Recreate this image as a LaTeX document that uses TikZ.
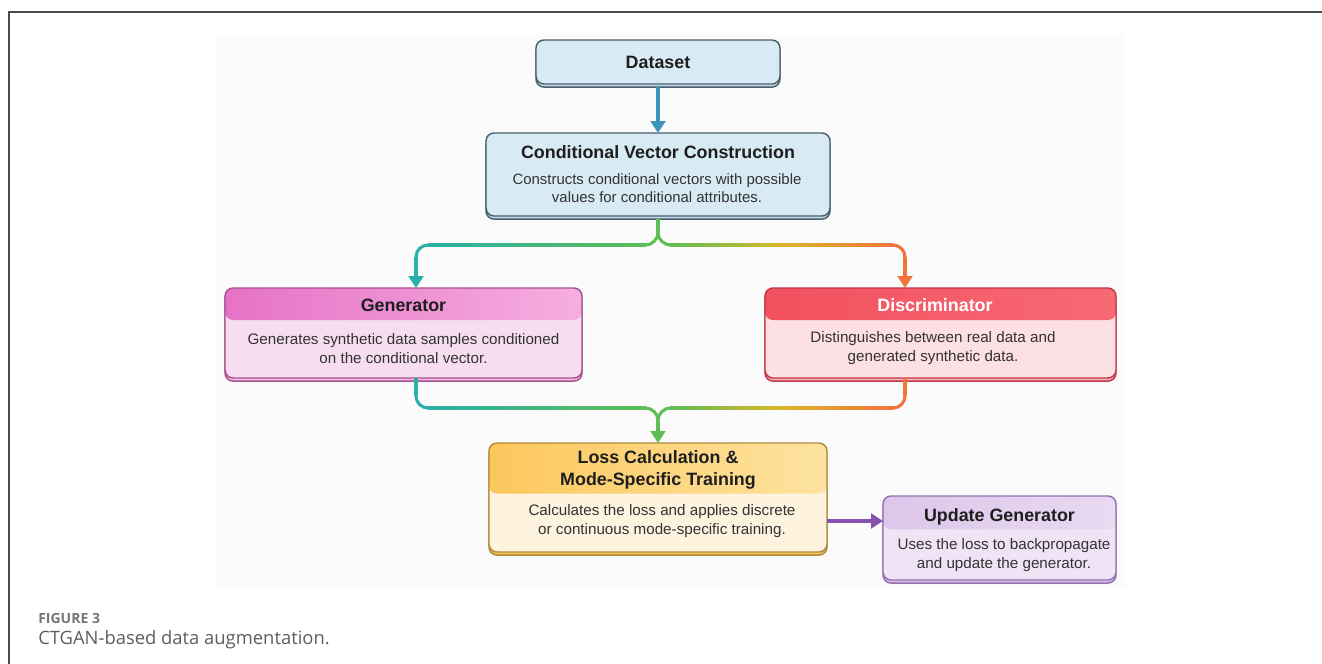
\documentclass[tikz,border=0pt]{standalone}
\usepackage{fontspec}
\setmainfont{Liberation Sans}
\newfontfamily\capfont{Open Sans}
\usetikzlibrary{arrows.meta,calc,fit,shadows}

% palette
\definecolor{ink}{HTML}{1E1E1E}
\definecolor{ink2}{HTML}{333333}
\definecolor{frameC}{HTML}{4A4A4A}
\definecolor{capC}{HTML}{5E5E5E}
\definecolor{panel}{HTML}{FBFBFB}
\definecolor{cBlue}{HTML}{3A97BA}
\definecolor{cGreen}{HTML}{5EBD55}
\definecolor{cTeal}{HTML}{2AB0A6}
\definecolor{cYel}{HTML}{D8B82A}
\definecolor{cOra}{HTML}{F2743A}
\definecolor{cPurple}{HTML}{8550AE}
% box colours
\definecolor{blueBdr}{HTML}{4A5F6C}
\definecolor{blueFill}{HTML}{D8EAF4}
\definecolor{blueShd}{HTML}{C2DAE7}
\definecolor{genBdr}{HTML}{A8508F}
\definecolor{genBody}{HTML}{F6DEF0}
\definecolor{genH1}{HTML}{E672C6}
\definecolor{genH2}{HTML}{F6AEE0}
\definecolor{genShd}{HTML}{F0C0E0}
\definecolor{disBdr}{HTML}{C03848}
\definecolor{disBody}{HTML}{FDE0E3}
\definecolor{disH1}{HTML}{F2505E}
\definecolor{disH2}{HTML}{F66A74}
\definecolor{disShd}{HTML}{F8B4BC}
\definecolor{lossBdr}{HTML}{B08A3A}
\definecolor{lossBody}{HTML}{FDF3DF}
\definecolor{lossH1}{HTML}{FCC75C}
\definecolor{lossH2}{HTML}{FDE3A0}
\definecolor{lossShd}{HTML}{F5C55A}
\definecolor{updBdr}{HTML}{9470B0}
\definecolor{updBody}{HTML}{EFE3F5}
\definecolor{updH1}{HTML}{DCC6EA}
\definecolor{updH2}{HTML}{E9D9F1}
\definecolor{updShd}{HTML}{D8C0E8}

\tikzset{
  card/.style n args={3}{draw=#1, fill=#2, line width=1.1pt, rounded corners=6pt,
    inner sep=0pt, outer sep=0pt,
    general shadow={shadow xshift=0pt, shadow yshift=-2.3pt, fill=#3, draw=#1, line width=1.1pt}},
  head/.style n args={3}{path picture={
    \shade[left color=#1, right color=#2]
      (path picture bounding box.north west) rectangle
      ([yshift=-#3]path picture bounding box.north east);}},
  ttl/.style={font=\bfseries\fontsize{13.4}{16.5}\selectfont, text=ink, align=center, inner sep=0pt},
  txt/.style={font=\fontsize{11.4}{14.8}\selectfont, text=ink2, align=center, inner sep=0pt},
  wire/.style={line width=2.3pt},
  tip/.style={-{Triangle[length=9pt,width=11pt]}},
}

% colour-graded horizontal run, left point #1 to right point #2, colours #3 -> #4
\newcommand\gradrun[4]{%
  \shade[left color=#3, right color=#4]
    ([xshift=-0.3pt, yshift=1.15pt]#1) rectangle ([xshift=0.3pt, yshift=-1.15pt]#2);}

\begin{document}
\begin{tikzpicture}[x=0.75pt, y=-0.75pt]
\useasboundingbox (0,0) rectangle (1322,664);

% page frame and figure panel
\fill[white] (0,0) rectangle (1322,664);
\fill[panel] (217,34) rectangle (1125,588);
\draw[frameC, line width=1.2pt] (9,664) -- (9,12) -- (1322,12);

% boxes
\node[card={blueBdr}{blueFill}{blueShd}, fit={(536,40)(780,84)}] (ds) {};
\node[ttl] (dsT) at (ds.center) {Dataset};

\node[card={blueBdr}{blueFill}{blueShd}, fit={(486,133)(830,216)}] (cvc) {};
\node[ttl] (cvcT) at (658,152) {Conditional Vector Construction};
\node[txt, font=\fontsize{11.2}{13}\selectfont] (cvcB) at (657,188)
  {Constructs conditional vectors with possible\\values for conditional attributes.};

\node[card={genBdr}{genBody}{genShd}, head={genH1}{genH2}{24pt}, fit={(225,288)(582,378)}] (gen) {};
\node[ttl] (genT) at (403.5,305) {Generator};
\node[txt] (genB) at (403.5,348.5)
  {Generates synthetic data samples conditioned\\on the conditional vector.};

\node[card={disBdr}{disBody}{disShd}, head={disH1}{disH2}{24pt}, fit={(765,288)(1116,378)}] (dis) {};
\node[ttl, text=white] (disT) at (935,305) {Discriminator};
\node[txt] (disB) at (933,348)
  {Distinguishes between real data and\\generated synthetic data.};

\node[card={lossBdr}{lossBody}{lossShd}, head={lossH1}{lossH2}{38pt}, fit={(489,443)(827,552)}] (loss) {};
\node[ttl] (lossT) at (658,469.5) {Loss Calculation \&\\Mode-Specific Training};
\node[txt] (lossB) at (662,521)
  {Calculates the loss and applies discrete\\or continuous mode-specific training.};

\node[card={updBdr}{updBody}{updShd}, head={updH1}{updH2}{25pt}, fit={(883,496)(1116,580)}] (upd) {};
\node[ttl] (updT) at (999.5,517) {Update Generator};
\node[txt] (updB) at (1004,555)
  {Uses the loss to backpropagate\\and update the generator.};

% bend points of the split and merge wires
\coordinate (s0) at (658,233);
\coordinate (hL) at (646,245);  \coordinate (hL2) at (428,245);
\coordinate (hR) at (670,245);  \coordinate (hM) at (780,245);  \coordinate (hR2) at (893,245);
\coordinate (vL) at (416,257);  \coordinate (vR) at (905,257);

\coordinate (bL) at (416,396);  \coordinate (bR) at (905,396);
\coordinate (gL) at (428,408);  \coordinate (gL2) at (646,408);
\coordinate (gR) at (893,408);  \coordinate (gM) at (780,408);  \coordinate (gR2) at (670,408);
\coordinate (m0) at (658,420);
\coordinate (pa) at (850,521);

% Dataset -> Conditional Vector Construction
\draw[wire, tip, draw=cBlue, fill=cBlue, shorten <=2.3pt] (ds.south) -- (cvc.north);

% split towards Generator and Discriminator
\draw[wire, draw=cGreen] ([yshift=-2.3pt]cvc.south) -- (s0);
\draw[wire, draw=cGreen] (s0) .. controls (658,239.6) and (651.4,245) .. (hL);
\draw[wire, draw=cGreen] (s0) .. controls (658,239.6) and (664.6,245) .. (hR);
\gradrun{hL2}{hL}{cTeal}{cGreen}
\gradrun{hR}{hM}{cGreen}{cYel}
\gradrun{hM}{hR2}{cYel}{cOra}
\draw[wire, draw=cTeal] (hL2) .. controls (421.4,245) and (416,250.4) .. (vL);
\draw[wire, draw=cOra] (hR2) .. controls (899.6,245) and (905,250.4) .. (vR);
\draw[wire, tip, draw=cTeal, fill=cTeal] (vL) -- (vL |- gen.north);
\draw[wire, tip, draw=cOra, fill=cOra] (vR) -- (vR |- dis.north);

% merge into Loss Calculation
\draw[wire, draw=cTeal] (gen.south -| bL) -- (bL);
\draw[wire, draw=cOra] (dis.south -| bR) -- (bR);
\draw[wire, draw=cTeal] (bL) .. controls (416,402.6) and (421.4,408) .. (gL);
\draw[wire, draw=cOra] (bR) .. controls (905,402.6) and (899.6,408) .. (gR);
\gradrun{gL}{gL2}{cTeal}{cGreen}
\gradrun{gR2}{gM}{cGreen}{cYel}
\gradrun{gM}{gR}{cYel}{cOra}
\draw[wire, draw=cGreen] (gL2) .. controls (651.4,408) and (658,413.4) .. (m0);
\draw[wire, draw=cGreen] (gR2) .. controls (664.6,408) and (658,413.4) .. (m0);
\draw[wire, tip, draw=cGreen, fill=cGreen] (m0) -- (loss.north);

% Loss -> Update Generator
\draw[wire, tip, draw=cPurple, fill=cPurple] (loss.east |- pa) -- (upd.west |- pa);

% caption
\node[anchor=base west, inner sep=0pt, text=capC!85!white,
      font=\capfont\bfseries\fontsize{10.5}{12}\selectfont] (capA) at (38,623) {FIGURE 3};
\node[anchor=base west, inner sep=0pt, text=capC,
      font=\capfont\fontsize{13.8}{16}\selectfont] (capB) at (38,644) {CTGAN-based data augmentation.};
\end{tikzpicture}
\end{document}
